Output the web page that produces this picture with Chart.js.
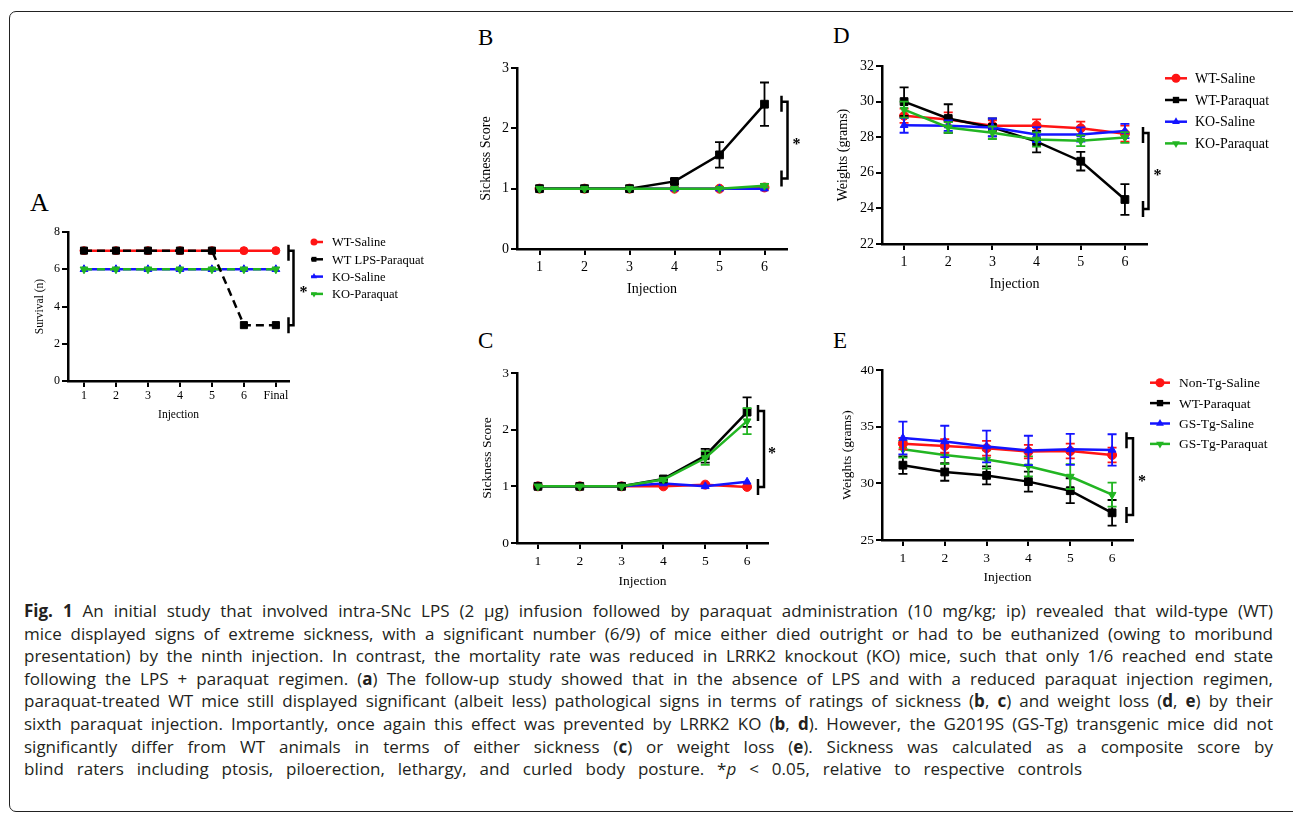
<!DOCTYPE html>
<html><head><meta charset="utf-8">
<script src="https://cdn.jsdelivr.net/npm/chart.js@4.4.1/dist/chart.umd.min.js"></script>
<style>
html,body{margin:0;padding:0;background:#fff;}
body{width:1293px;height:822px;position:relative;overflow:hidden;}
#frame{position:absolute;left:9px;top:11px;width:1320px;height:801px;border:1.5px solid #222;border-radius:7px;box-sizing:border-box;}
canvas{position:absolute;}
.letter{position:absolute;font-family:'Liberation Serif',serif;color:#000;}
#caption{position:absolute;left:24px;top:600px;font-family:'Open Sans',sans-serif;font-size:17px;line-height:22.6px;color:#231f20;}
#caption .ln{white-space:nowrap;height:22.6px;}
</style></head>
<body>
<div id="frame"></div>
<div class="letter" style="left:30px;top:190px;font-size:26px;line-height:26px;">A</div>
<div class="letter" style="left:478px;top:26px;font-size:23px;line-height:23px;">B</div>
<div class="letter" style="left:478px;top:329px;font-size:23px;line-height:23px;">C</div>
<div class="letter" style="left:833px;top:24px;font-size:23px;line-height:23px;">D</div>
<div class="letter" style="left:833px;top:329px;font-size:23px;line-height:23px;">E</div>
<canvas id="cA"></canvas>
<canvas id="cB"></canvas>
<canvas id="cC"></canvas>
<canvas id="cD"></canvas>
<canvas id="cE"></canvas>
<div id="caption">
<div class="ln" data-w="1249"><span><b>Fig. 1</b> An initial study that involved intra-SNc LPS (2 μg) infusion followed by paraquat administration (10 mg/kg; ip) revealed that wild-type (WT)</span></div>
<div class="ln" data-w="1249"><span>mice displayed signs of extreme sickness, with a significant number (6/9) of mice either died outright or had to be euthanized (owing to moribund</span></div>
<div class="ln" data-w="1249"><span>presentation) by the ninth injection. In contrast, the mortality rate was reduced in LRRK2 knockout (KO) mice, such that only 1/6 reached end state</span></div>
<div class="ln" data-w="1249"><span>following the LPS + paraquat regimen. (<b>a</b>) The follow-up study showed that in the absence of LPS and with a reduced paraquat injection regimen,</span></div>
<div class="ln" data-w="1249"><span>paraquat-treated WT mice still displayed significant (albeit less) pathological signs in terms of ratings of sickness (<b>b</b>, <b>c</b>) and weight loss (<b>d</b>, <b>e</b>) by their</span></div>
<div class="ln" data-w="1249"><span>sixth paraquat injection. Importantly, once again this effect was prevented by LRRK2 KO (<b>b</b>, <b>d</b>). However, the G2019S (GS-Tg) transgenic mice did not</span></div>
<div class="ln" data-w="1249"><span>significantly differ from WT animals in terms of either sickness (<b>c</b>) or weight loss (<b>e</b>). Sickness was calculated as a composite score by</span></div>
<div class="ln" data-w="1058"><span>blind raters including ptosis, piloerection, lethargy, and curled body posture. *<i>p</i> &lt; 0.05, relative to respective controls</span></div>
</div>
<script>
// ---------------- data ----------------
const injections = [1, 2, 3, 4, 5, 6];
const injectionsA = [1, 2, 3, 4, 5, 6, 7];
const labelsA = ['1', '2', '3', '4', '5', '6', 'Final'];
const labelsBE = ['1', '2', '3', '4', '5', '6'];

const yTicksA = [0, 2, 4, 6, 8];
const yTicksB = [0, 1, 2, 3];
const yTicksC = [0, 1, 2, 3];
const yTicksD = [22, 24, 26, 28, 30, 32];
const yTicksE = [25, 30, 35, 40];

// A: survival
const wtSalineA = [7, 7, 7, 7, 7, 7, 7];
const wtLpsParaquatA = [7, 7, 7, 7, 7, 3, 3];
const koSalineA = [6, 6, 6, 6, 6, 6, 6];
const koParaquatA = [6, 6, 6, 6, 6, 6, 6];
const bracketA = [7, 3];

// B: sickness score (LRRK2 KO)
const wtSalineB = [1, 1, 1, 1, 1, 1.02];
const wtParaquatB = [1, 1, 1, 1.12, 1.56, 2.4];
const wtParaquatBErr = [0, 0, 0, 0.04, 0.21, 0.36];
const koSalineB = [1, 1, 1, 1, 1, 1];
const koParaquatB = [1, 1, 1, 1, 1, 1.05];
const koParaquatBErr = [0, 0, 0, 0, 0, 0.03];
const bracketB = [2.44, 1.17];

// C: sickness score (G2019S)
const nonTgSalineC = [1, 1, 1, 1, 1.03, 0.99];
const wtParaquatC = [1, 1, 1, 1.13, 1.54, 2.31];
const wtParaquatCErr = [0, 0, 0, 0.03, 0.12, 0.26];
const gsSalineC = [1, 1, 1, 1.05, 1.0, 1.08];
const gsParaquatC = [1, 1, 1, 1.12, 1.5, 2.15];
const gsParaquatCErr = [0, 0, 0, 0.03, 0.12, 0.23];
const bracketC = [2.33, 0.99];

// D: weights (LRRK2 KO)
const wtSalineD = [29.2, 29.0, 28.65, 28.65, 28.5, 28.2];
const wtSalineDErr = [0.4, 0.4, 0.3, 0.35, 0.38, 0.45];
const wtParaquatD = [30.0, 29.05, 28.55, 27.75, 26.65, 24.5];
const wtParaquatDErr = [0.8, 0.8, 0.5, 0.6, 0.52, 0.86];
const koSalineD = [28.67, 28.65, 28.55, 28.15, 28.15, 28.35];
const koSalineDErr = [0.42, 0.3, 0.5, 0.42, 0.4, 0.4];
const koParaquatD = [29.55, 28.55, 28.25, 27.87, 27.8, 27.98];
const koParaquatDErr = [0.45, 0.3, 0.35, 0.4, 0.3, 0.3];
const bracketD = [28.24, 23.96];

// E: weights (G2019S)
const nonTgSalineE = [33.5, 33.3, 33.1, 32.8, 32.85, 32.5];
const nonTgSalineEErr = [0.5, 0.6, 0.65, 0.6, 0.65, 0.65];
const wtParaquatE = [31.6, 31.0, 30.7, 30.15, 29.35, 27.4];
const wtParaquatEErr = [0.77, 0.77, 0.8, 0.88, 1.1, 1.13];
const gsSalineE = [34.0, 33.7, 33.25, 32.9, 33.0, 32.95];
const gsSalineEErr = [1.45, 1.38, 1.4, 1.3, 1.37, 1.38];
const gsParaquatE = [33.0, 32.5, 32.1, 31.5, 30.6, 29.0];
const gsParaquatEErr = [0.74, 0.8, 0.8, 0.88, 1.1, 1.06];
const bracketE = [33.97, 27.2];

// ---------------- caption justification ----------------
document.querySelectorAll('#caption .ln').forEach(div => {
  const span = div.querySelector('span');
  const target = parseFloat(div.dataset.w);
  const w = span.getBoundingClientRect().width;
  const text = span.textContent;
  const gaps = (text.match(/ /g) || []).length;
  const extra = target - w;
  if (extra >= 0) span.style.wordSpacing = (extra / gaps) + 'px';
  else span.style.letterSpacing = (extra / text.length) + 'px';
});

// ---------------- styling ----------------
const SERIF = "'Liberation Serif', 'Times New Roman', serif";
const RED = '#ff1414', BLACK = '#000000', BLUE = '#1414ff', GREEN = '#22b522';

function pts(xs, ys) { return ys.map((v, i) => ({ x: xs[i], y: v })); }

function series(label, xs, ys, errs, color, style, extra) {
  return Object.assign({
    label, data: pts(xs, ys), errors: errs || null,
    borderColor: color, backgroundColor: color,
    pointBackgroundColor: color, pointBorderColor: color,
    pointStyle: style, pointRadius: 4.5, pointHoverRadius: 4.5,
    pointBorderWidth: 1, borderWidth: 2.5, tension: 0, fill: false
  }, extra || {});
}

function drawMarker(ctx, style, rot, x, y, r, color) {
  ctx.save();
  ctx.fillStyle = color;
  ctx.beginPath();
  if (style === 'circle') {
    ctx.arc(x, y, r, 0, Math.PI * 2);
  } else if (style === 'rect') {
    const s = r * Math.SQRT1_2;
    ctx.rect(x - s, y - s, 2 * s, 2 * s);
  } else {
    let a = (rot || 0) * Math.PI / 180;
    ctx.moveTo(x + Math.sin(a) * r, y - Math.cos(a) * r);
    a += 2 * Math.PI / 3;
    ctx.lineTo(x + Math.sin(a) * r, y - Math.cos(a) * r);
    a += 2 * Math.PI / 3;
    ctx.lineTo(x + Math.sin(a) * r, y - Math.cos(a) * r);
    ctx.closePath();
  }
  ctx.fill();
  ctx.restore();
}

// error bars drawn just below each dataset
const errorBars = {
  id: 'errorBars',
  beforeDatasetDraw(chart, args) {
    const ds = chart.data.datasets[args.index];
    if (!ds.errors) return;
    const ctx = chart.ctx, xs = chart.scales.x, ys = chart.scales.y;
    ctx.save();
    ctx.strokeStyle = ds.borderColor;
    ctx.lineWidth = 1.8;
    const cap = 4.5;
    ds.data.forEach((p, j) => {
      const e = ds.errors[j];
      if (!e) return;
      const x = xs.getPixelForValue(p.x);
      const y1 = ys.getPixelForValue(p.y + e), y2 = ys.getPixelForValue(p.y - e);
      ctx.beginPath();
      ctx.moveTo(x, y1); ctx.lineTo(x, y2);
      ctx.moveTo(x - cap, y1); ctx.lineTo(x + cap, y1);
      ctx.moveTo(x - cap, y2); ctx.lineTo(x + cap, y2);
      ctx.stroke();
    });
    ctx.restore();
  }
};

// significance bracket
const bracket = {
  id: 'bracket',
  afterDraw(chart, args, o) {
    if (!o || !o.values) return;
    const ctx = chart.ctx, ys = chart.scales.y, a = chart.chartArea;
    const yt = ys.getPixelForValue(o.values[0]), yb = ys.getPixelForValue(o.values[1]);
    const xv = a.right + o.dx, xc = a.right + o.capDx;
    ctx.save();
    ctx.strokeStyle = '#000';
    ctx.lineWidth = 2.5;
    ctx.beginPath();
    ctx.moveTo(xc, yt); ctx.lineTo(xv, yt); ctx.lineTo(xv, yb); ctx.lineTo(xc, yb);
    ctx.moveTo(xc, yt - 6); ctx.lineTo(xc, yt + 10);
    ctx.moveTo(xc, yb - 8); ctx.lineTo(xc, yb + 8);
    ctx.stroke();
    ctx.fillStyle = '#000';
    ctx.font = 'bold 16px ' + SERIF;
    ctx.textAlign = 'center';
    ctx.textBaseline = 'alphabetic';
    ctx.fillText('*', xv + o.starDx, (yt + yb) / 2 + 9);
    ctx.restore();
  }
};

// legend: line + marker + label (y0 in canvas pixels)
const seriesLegend = {
  id: 'seriesLegend',
  afterDraw(chart, args, o) {
    if (!o || !o.show) return;
    const ctx = chart.ctx, a = chart.chartArea;
    chart.data.datasets.forEach((ds, i) => {
      const y = o.y0 + i * o.dy;
      ctx.save();
      ctx.strokeStyle = ds.borderColor;
      ctx.lineWidth = 2.5;
      ctx.beginPath();
      ctx.moveTo(a.right + o.lineStart, y);
      ctx.lineTo(a.right + o.lineEnd, y);
      ctx.stroke();
      drawMarker(ctx, ds.pointStyle, ds.pointRotation, a.right + o.markerX, y, o.r, ds.borderColor);
      ctx.fillStyle = '#000';
      ctx.font = o.size + 'px ' + SERIF;
      ctx.textBaseline = 'middle';
      ctx.textAlign = 'left';
      ctx.fillText(ds.label, a.right + o.textX, y + 1);
      ctx.restore();
    });
  }
};

function makePanel(id, g, xLabels, yTicks, yTitle, datasets, plug) {
  const cv = document.getElementById(id);
  cv.width = g.w; cv.height = g.h;
  cv.style.left = g.left + 'px'; cv.style.top = g.top + 'px';
  cv.style.width = g.w + 'px'; cv.style.height = g.h + 'px';
  const gridCfg = { display: true, drawOnChartArea: false, drawTicks: true, tickLength: 6, color: '#000', lineWidth: 2 };
  const borderCfg = { display: true, color: '#000', width: 2.5 };
  return new Chart(cv, {
    type: 'line',
    data: { datasets },
    options: {
      responsive: false, animation: false, devicePixelRatio: 1, events: [],
      layout: { padding: { left: 0, top: g.padTop, right: g.padRight, bottom: 0 } },
      plugins: {
        legend: { display: false }, tooltip: { enabled: false },
        bracket: plug.bracket, seriesLegend: plug.legend
      },
      scales: {
        x: {
          type: 'linear', min: 0.5, max: g.xMax,
          afterBuildTicks: s => { s.ticks = xLabels.map((_, i) => ({ value: i + 1 })); },
          afterFit: s => { s.height = g.H; },
          ticks: { callback: v => xLabels[Math.round(v) - 1], font: { family: SERIF, size: g.tick }, color: '#000', padding: g.xPad, autoSkip: false, maxRotation: 0 },
          grid: gridCfg, border: borderCfg,
          title: { display: true, text: 'Injection', font: { family: SERIF, size: g.title }, color: '#000', padding: 0 }
        },
        y: {
          type: 'linear', min: yTicks[0], max: yTicks[yTicks.length - 1],
          afterBuildTicks: s => { s.ticks = yTicks.map(v => ({ value: v })); },
          afterFit: s => { s.width = g.W; },
          ticks: { font: { family: SERIF, size: g.tick }, color: '#000', padding: 2 },
          grid: gridCfg, border: borderCfg,
          title: { display: true, text: yTitle, font: { family: SERIF, size: g.title }, color: '#000', padding: 0 }
        }
      }
    },
    plugins: [errorBars, bracket, seriesLegend]
  });
}

// ---------------- panel A ----------------
makePanel('cA',
  { left: 33, top: 212, w: 397, h: 210, W: 35, H: 41, padTop: 20, padRight: 141, xMax: 7.41, tick: 12, title: 11.5, xPad: 2 },
  labelsA, yTicksA, 'Survival (n)',
  [
    series('WT-Saline', injectionsA, wtSalineA, null, RED, 'circle', { order: 4, pointRadius: 4 }),
    series('WT LPS-Paraquat', injectionsA, wtLpsParaquatA, null, BLACK, 'rect', { order: 1, borderDash: [8, 5], pointRadius: 5 }),
    series('KO-Saline', injectionsA, koSalineA, null, BLUE, 'triangle', { order: 3, pointRadius: 4.5 }),
    series('KO-Paraquat', injectionsA, koParaquatA, null, GREEN, 'triangle', { order: 2, borderDash: [8, 5], pointRotation: 180, pointRadius: 4.5 })
  ],
  { bracket: { values: bracketA, dx: 4.5, capDx: -0.5, starDx: 10 },
    legend: { show: true, y0: 30, dy: 17.3, lineStart: 22, lineEnd: 34, markerX: 25, textX: 43, r: 3.5, size: 12.5 } }
);

// ---------------- panel B ----------------
makePanel('cB',
  { left: 478, top: 48, w: 329, h: 250, W: 39, H: 49, padTop: 20, padRight: 20, xMax: 6.5, tick: 14, title: 14, xPad: 4 },
  labelsBE, yTicksB, 'Sickness Score',
  [
    series('WT-Saline', injections, wtSalineB, null, RED, 'circle', { order: 4 }),
    series('WT-Paraquat', injections, wtParaquatB, wtParaquatBErr, BLACK, 'rect', { order: 2, pointRadius: 5.5 }),
    series('KO-Saline', injections, koSalineB, null, BLUE, 'triangle', { order: 3 }),
    series('KO-Paraquat', injections, koParaquatB, koParaquatBErr, GREEN, 'triangle', { order: 1, pointRotation: 180 })
  ],
  { bracket: { values: bracketB, dx: 0.5, capDx: -5.5, starDx: 9 }, legend: { show: false } }
);

// ---------------- panel C ----------------
makePanel('cC',
  { left: 479, top: 353, w: 309, h: 237, W: 38, H: 47, padTop: 20, padRight: 20, xMax: 6.5, tick: 13.5, title: 13.5, xPad: 4 },
  labelsBE, yTicksC, 'Sickness Score',
  [
    series('Non-Tg-Saline', injections, nonTgSalineC, null, RED, 'circle', { order: 4 }),
    series('WT-Paraquat', injections, wtParaquatC, wtParaquatCErr, BLACK, 'rect', { order: 2, pointRadius: 5.5 }),
    series('GS-Tg-Saline', injections, gsSalineC, null, BLUE, 'triangle', { order: 3 }),
    series('GS-Tg-Paraquat', injections, gsParaquatC, gsParaquatCErr, GREEN, 'triangle', { order: 1, pointRotation: 180 })
  ],
  { bracket: { values: bracketC, dx: -4, capDx: -10, starDx: 8 }, legend: { show: false } }
);

// ---------------- panel D ----------------
makePanel('cD',
  { left: 835, top: 46, w: 457, h: 247, W: 47, H: 49, padTop: 20, padRight: 145, xMax: 6.5, tick: 14, title: 14, xPad: 4 },
  labelsBE, yTicksD, 'Weights (grams)',
  [
    series('WT-Saline', injections, wtSalineD, wtSalineDErr, RED, 'circle', { order: 4 }),
    series('WT-Paraquat', injections, wtParaquatD, wtParaquatDErr, BLACK, 'rect', { order: 3, pointRadius: 5.5 }),
    series('KO-Saline', injections, koSalineD, koSalineDErr, BLUE, 'triangle', { order: 2 }),
    series('KO-Paraquat', injections, koParaquatD, koParaquatDErr, GREEN, 'triangle', { order: 1, pointRotation: 180 })
  ],
  { bracket: { values: bracketD, dx: 1.5, capDx: -4, starDx: 9 },
    legend: { show: true, y0: 32.3, dy: 21.7, lineStart: 18, lineEnd: 40, markerX: 29, textX: 48, r: 4.5, size: 14 } }
);

// ---------------- panel E ----------------
makePanel('cE',
  { left: 839, top: 350, w: 449, h: 236, W: 43, H: 46, padTop: 20, padRight: 155, xMax: 6.5, tick: 13.5, title: 13.5, xPad: 4 },
  labelsBE, yTicksE, 'Weights (grams)',
  [
    series('Non-Tg-Saline', injections, nonTgSalineE, nonTgSalineEErr, RED, 'circle', { order: 2 }),
    series('WT-Paraquat', injections, wtParaquatE, wtParaquatEErr, BLACK, 'rect', { order: 4, pointRadius: 5.5 }),
    series('GS-Tg-Saline', injections, gsSalineE, gsSalineEErr, BLUE, 'triangle', { order: 1 }),
    series('GS-Tg-Paraquat', injections, gsParaquatE, gsParaquatEErr, GREEN, 'triangle', { order: 3, pointRotation: 180 })
  ],
  { bracket: { values: bracketE, dx: 0, capDx: -6.5, starDx: 9 },
    legend: { show: true, y0: 32.7, dy: 20.4, lineStart: 17, lineEnd: 37, markerX: 27, textX: 46, r: 4.5, size: 13.5 } }
);
</script>
</body></html>
